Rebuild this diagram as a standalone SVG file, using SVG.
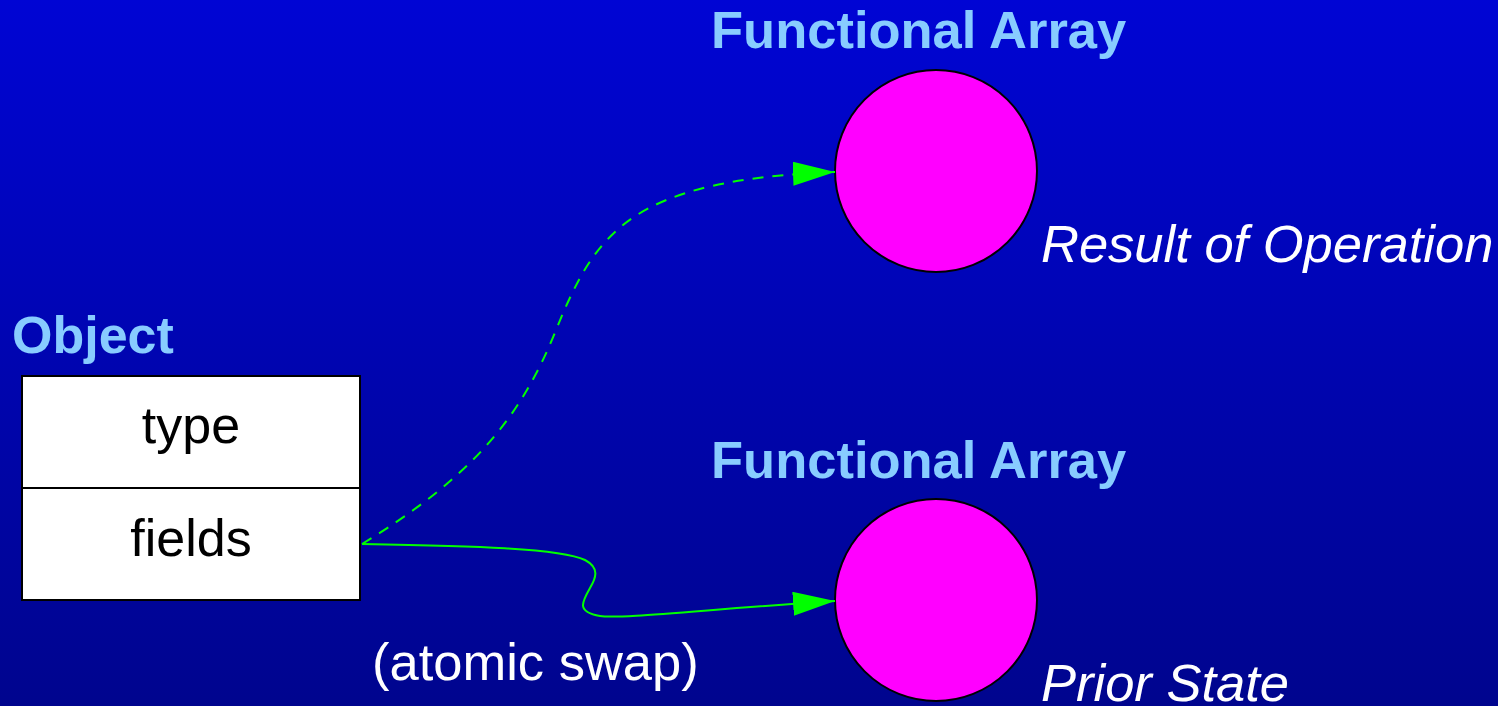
<svg xmlns="http://www.w3.org/2000/svg" width="1498" height="706" viewBox="0 0 1498 706">
  <defs>
    <linearGradient id="bg" x1="0" y1="0" x2="0" y2="1">
      <stop offset="0" stop-color="#0005d4"/>
      <stop offset="1" stop-color="#00058e"/>
    </linearGradient>
    <marker id="arrow" markerUnits="userSpaceOnUse" markerWidth="44" markerHeight="24" refX="42" refY="12" orient="auto">
      <polygon points="0,0 42,12 0,24" fill="#00ff00"/>
    </marker>
    <style>
      .title { font-family: "Liberation Sans", Arial, sans-serif; font-weight: bold; font-size: 52.5px; fill: #88ccff; }
      .field { font-family: "Liberation Sans", Arial, sans-serif; font-size: 52px; fill: #000000; text-anchor: middle; }
      .note { font-family: "Liberation Sans", Arial, sans-serif; font-size: 52.5px; fill: #ffffff; }
      .note-i { font-family: "Liberation Sans", Arial, sans-serif; font-size: 52.5px; font-style: italic; fill: #ffffff; }
      .cell { fill: #ffffff; stroke: #000000; stroke-width: 2; }
      .array { fill: #ff00ff; stroke: #000000; stroke-width: 2; }
      .link { fill: none; stroke: #00ff00; stroke-width: 2; marker-end: url(#arrow); }
      .dashed { stroke-dasharray: 11 9; }
    </style>
  </defs>

  <rect x="0" y="0" width="1498" height="706" fill="url(#bg)"/>

  <!-- object record with two slots -->
  <g id="object">
    <text class="title" x="12" y="353" style="font-size:52px">Object</text>
    <rect class="cell" x="22" y="376" width="338" height="112"/>
    <rect class="cell" x="22" y="488" width="338" height="112"/>
    <text class="field" x="191" y="443">type</text>
    <text class="field" x="191" y="556">fields</text>
  </g>

  <!-- new array produced by the operation -->
  <g id="array-result">
    <text class="title" x="711" y="48">Functional Array</text>
    <circle class="array" cx="936" cy="171" r="101"/>
    <text class="note-i" x="1041" y="262">Result of Operation</text>
  </g>

  <!-- array currently referenced -->
  <g id="array-prior">
    <text class="title" x="711" y="478">Functional Array</text>
    <circle class="array" cx="936" cy="600" r="101"/>
    <text class="note-i" x="1041" y="701">Prior State</text>
  </g>

  <text id="swap-label" class="note" x="372" y="680">(atomic swap)</text>

  <g id="connectors">
    <path class="link dashed" d="M362,544 C470,478 520,420 556,330 C596,232 630,180 835,172"/>
    <path class="link" d="M362,544 C470,546 560,548 585,560 C600,568 596,578 590,588 C582,602 576,612 600,616 C620,619 700,610 835,601"/>
  </g>
</svg>
